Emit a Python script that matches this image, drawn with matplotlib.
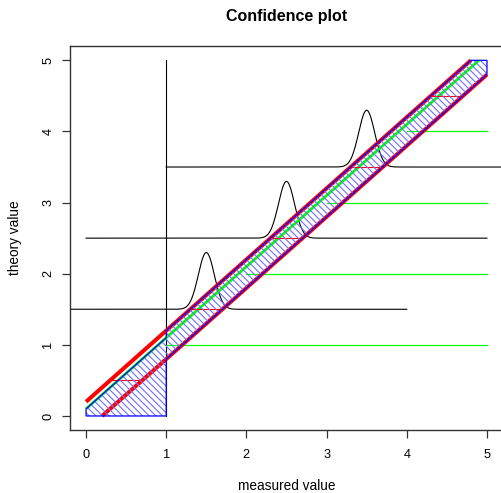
import numpy as np
import matplotlib
matplotlib.use('Agg')
import matplotlib.pyplot as plt
from matplotlib.patches import Polygon

plt.rcParams['font.family'] = ['Liberation Sans', 'DejaVu Sans']
plt.rcParams['hatch.linewidth'] = 0.8

# ---- data ----
title = "Confidence plot"
x_label = "measured value"
y_label = "theory value"
ticks = [0, 1, 2, 3, 4, 5]

# hatched confidence region
band_x = [0, 1, 1, 5, 5, 4.8, 1, 1, 0]
band_y = [0, 0, 0.8, 4.8, 5, 5, 1.2, 1.1, 0.1]

# confidence limits (red) and fitted line (green)
upper_x = [0.0, 4.8]
upper_y = [0.2, 5.0]
lower_x = [0.2, 5.0]
lower_y = [0.0, 4.8]
fit_x = [0.0, 4.9]
fit_y = [0.1, 5.0]

# horizontal green reference levels (start at x = level, end at x = 5)
level_y = [1, 2, 3, 4]
level_x_end = 5

# short red error segments
err_y = [0.5, 1.5, 2.5, 3.5, 4.5]
err_half = 0.2

# black vertical line
vline_x = 1
vline_y = [0, 5]

# gaussian measurement densities
peak_centers = [1.5, 2.5, 3.5]
peak_sd = 0.1
peak_area = 0.2
peak_span = 2.5

# ---- figure ----
W, H = 501, 493
fig = plt.figure(figsize=(W / 100, H / 100), dpi=100)
L, R, T, B = 70, 503, 46.1, 430.2
ax = fig.add_axes([L / W, 1 - B / H, (R - L) / W, (B - T) / H])
ax.set_xlim(-0.2, 5.2)
ax.set_ylim(-0.2, 5.2)

# black gaussian curves with baselines
for c in peak_centers:
    xs = np.linspace(c - peak_span, c + peak_span, 801)
    ys = c + peak_area * np.exp(-0.5 * ((xs - c) / peak_sd) ** 2) / (peak_sd * np.sqrt(2 * np.pi))
    ax.plot(xs, ys, color='black', lw=0.8, zorder=2)

ax.plot([vline_x, vline_x], vline_y, color='black', lw=0.8, zorder=2)

# green levels
for ly in level_y:
    ax.plot([ly, level_x_end], [ly, ly], color='#00FF00', lw=0.9, zorder=2)

# red limits
ax.plot(upper_x, upper_y, color='#FF0000', lw=2.9, zorder=3, solid_capstyle='butt')
ax.plot(lower_x, lower_y, color='#FF0000', lw=2.9, zorder=3, solid_capstyle='butt')
# green fit
ax.plot(fit_x, fit_y, color='#00FF00', lw=2.0, zorder=3, solid_capstyle='butt')

# red error segments
for ey in err_y:
    ax.plot([ey - err_half, ey + err_half], [ey, ey], color='#FF0000', lw=0.8, zorder=3)

# hatched band: hatch lines (lighter) and outline
verts = np.column_stack([band_x, band_y])
ax.add_patch(Polygon(verts, closed=True, facecolor='none', edgecolor='#6F6FFF',
                     hatch='\\' * 5, lw=0, zorder=4))
ax.add_patch(Polygon(verts, closed=True, facecolor='none', edgecolor='#0000FF',
                     lw=0.9, zorder=4.5))

# axes styling
for s in ax.spines.values():
    s.set_color('#333333')
    s.set_linewidth(1.0)
ax.set_xticks(ticks)
ax.set_yticks(ticks)
ax.set_xticklabels([str(t) for t in ticks])
ax.set_yticklabels([str(t) for t in ticks])
ax.tick_params(axis='both', length=5.8, width=0.9, color='#333333', labelsize=9.2)
ax.tick_params(axis='x', pad=7.5)
ax.tick_params(axis='y', pad=5.5)
for lab in ax.get_yticklabels():
    lab.set_rotation(90)
    lab.set_va('center')

fig.text(286.5 / W, 1 - 16 / H, title, ha='center', va='center', fontsize=11.5, fontweight='bold')
fig.text(286.5 / W, 1 - 486 / H, x_label, ha='center', va='center', fontsize=9.8)
fig.text(15 / W, 1 - 238 / H, y_label, ha='center', va='center', rotation=90, fontsize=9.8)

fig.savefig('out.png', dpi=100)
